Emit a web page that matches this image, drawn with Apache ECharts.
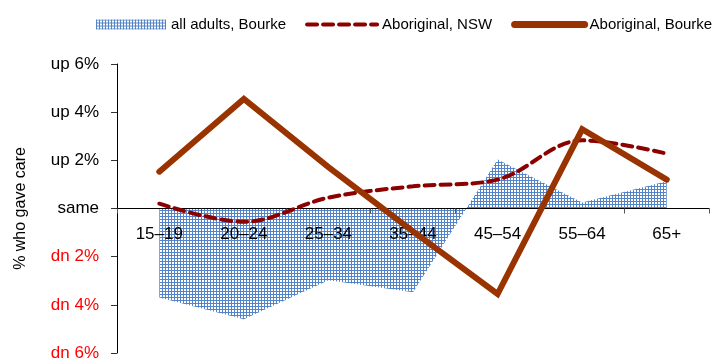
<!DOCTYPE html>
<html>
<head>
<meta charset="utf-8">
<script src="https://cdn.jsdelivr.net/npm/echarts@6/dist/echarts.min.js"></script>
<style>
html,body{margin:0;padding:0;background:#fff;}
#chart{width:718px;height:358px;}
</style>
</head>
<body>
<div id="chart"></div>
<script>
const categories = ['15–19', '20–24', '25–34', '35–44', '45–54', '55–64', '65+'];
const allAdultsBourke = [-3.7, -4.6, -2.98, -3.48, 2.03, 0.25, 1.13];
const aboriginalNSW = [0.2, -0.55, 0.45, 0.92, 1.2, 2.83, 2.28];
const aboriginalBourke = [1.53, 4.55, 1.72, -0.95, -3.55, 3.29, 1.2];
const yMin = -6, yMax = 6, yStep = 2;

// blue grid/checker fill pattern
const pc = document.createElement('canvas');
pc.width = 3; pc.height = 3;
const pctx = pc.getContext('2d');
pctx.fillStyle = '#ffffff'; pctx.fillRect(0, 0, 3, 3);
pctx.fillStyle = '#5383c8';
pctx.fillRect(0, 0, 3, 1);
pctx.fillRect(0, 0, 1, 3);
const pattern = { image: pc, repeat: 'repeat' };

const font = 'Liberation Sans, Arial, sans-serif';
const gridTop = 64, gridBottom = 5;
const chart = echarts.init(document.getElementById('chart'));
const option = {
  animation: false,
  textStyle: { fontFamily: font },
  legend: {
    top: 12,
    left: 91,
    width: 640,
    itemWidth: 70,
    itemHeight: 10,
    itemGap: 19,
    textStyle: { fontSize: 15, color: '#000', fontFamily: font },
    data: [
      { name: 'all adults, Bourke', icon: 'rect', itemStyle: { color: pattern } },
      { name: 'Aboriginal, NSW', itemStyle: { opacity: 0 }, lineStyle: { width: 4 } },
      { name: 'Aboriginal, Bourke', itemStyle: { opacity: 0 }, lineStyle: { width: 7, cap: 'round' } }
    ]
  },
  grid: { left: 117, right: 9, top: gridTop, bottom: gridBottom, containLabel: false, outerBoundsMode: 'none' },
  xAxis: {
    type: 'category',
    data: categories,
    boundaryGap: true,
    offset: 0,
    z: 10,
    axisLine: { onZero: false, lineStyle: { color: '#000', width: 1 } },
    axisTick: { show: true, length: 5, inside: false, lineStyle: { color: '#555' } },
    axisLabel: { fontSize: 17, color: '#000', margin: 17, fontFamily: font },
    splitLine: { show: false }
  },
  yAxis: {
    type: 'value',
    min: yMin, max: yMax, interval: yStep,
    name: '% who gave care',
    nameLocation: 'middle',
    nameGap: 88,
    nameTextStyle: { fontSize: 16, color: '#000', fontFamily: font },
    axisLine: { show: true, lineStyle: { color: '#000', width: 1 } },
    axisTick: { show: true, length: 6, lineStyle: { color: '#333' } },
    splitLine: { show: false },
    axisLabel: {
      fontSize: 17,
      margin: 18,
      fontFamily: font,
      color: function (v) { return v < 0 ? '#ff0000' : '#000'; },
      formatter: function (v) {
        if (v > 0) return 'up ' + v + '%';
        if (v < 0) return 'dn ' + (-v) + '%';
        return 'same';
      }
    }
  },
  series: [
    {
      name: 'all adults, Bourke',
      type: 'line',
      data: allAdultsBourke,
      symbol: 'none',
      itemStyle: { color: pattern },
      lineStyle: { width: 0, color: pattern },
      areaStyle: { color: pattern, opacity: 1 },
      z: 1
    },
    {
      name: 'Aboriginal, NSW',
      type: 'line',
      data: aboriginalNSW,
      symbol: 'none',
      smooth: 0.35,
      itemStyle: { color: '#8b0000' },
      lineStyle: { color: '#8b0000', width: 4, type: [10, 6], cap: 'round' },
      z: 12
    },
    {
      name: 'Aboriginal, Bourke',
      type: 'line',
      data: aboriginalBourke,
      symbol: 'none',
      itemStyle: { color: '#993300' },
      lineStyle: { color: '#993300', width: 6, cap: 'round', join: 'miter' },
      z: 13
    }
  ]
};
chart.setOption(option);
// move the x axis (line, ticks and labels) up to the zero value using the library's y scale
const zeroY = chart.convertToPixel({ yAxisIndex: 0 }, 0);
const bottomY = chart.getHeight() - gridBottom;
chart.setOption({ xAxis: { offset: -(bottomY - zeroY) } });
</script>
</body>
</html>
